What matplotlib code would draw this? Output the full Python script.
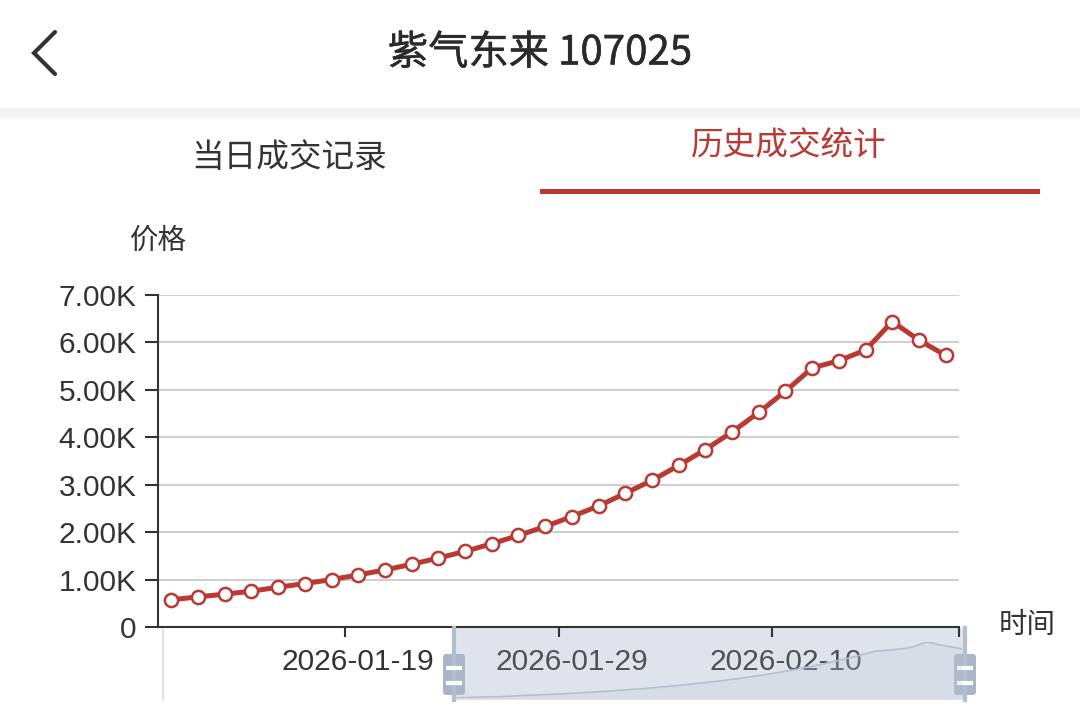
import numpy as np
import matplotlib.pyplot as plt
import matplotlib.patheffects as pe
from matplotlib.patches import Rectangle, FancyBboxPatch

# price per trading day
prices = [573, 636, 692, 755, 839, 916, 1000, 1098, 1203, 1322,
          1455, 1594, 1755, 1930, 2119, 2329, 2552, 2818, 3091, 3406,
          3741, 4112, 4524, 4972, 5462, 5615, 5839, 6440, 6049, 5727]
tick_idx = [7, 15, 23]
tick_labels = ["2026-01-19", "2026-01-29", "2026-02-10"]
y_ticks = [0, 1000, 2000, 3000, 4000, 5000, 6000, 7000]
y_labels = ["0", "1.00K", "2.00K", "3.00K", "4.00K", "5.00K", "6.00K", "7.00K"]

W, H = 1080, 713
fig = plt.figure(figsize=(W / 100, H / 100), dpi=100)


def box(x, y, w, h):
    # pixel box with top-left origin -> figure fraction
    return [x / W, 1 - (y + h) / H, w / W, h / H]


cjk = ['Noto Sans CJK SC', 'DejaVu Sans']
red = '#b83a32'
dark = '#333333'

# background layer (slider window sits behind the tick labels)
bg = fig.add_axes([0, 0, 1, 1], zorder=0)
bg.set_xlim(0, W)
bg.set_ylim(H, 0)
bg.axis('off')
bg.add_patch(Rectangle((455, 628), 510, 72, fc='#dfe4ec', ec='none'))

# main chart
ax = fig.add_axes(box(158, 295, 801, 332), zorder=1)
ax.patch.set_visible(False)
x = np.arange(len(prices))
ax.plot(x, prices, color=red, lw=3.6, marker='o', ms=9.5, mfc='white',
        mec=red, mew=1.8, zorder=3, clip_on=False)
ax.set_xlim(-0.5, len(prices) - 0.5)
ax.set_ylim(0, 7000)
ax.set_yticks(y_ticks)
ax.set_yticklabels(y_labels, fontsize=21.5, color=dark, family='Liberation Sans')
ax.tick_params(axis='y', length=9.5, width=1.5, color=dark, pad=6)
ax.grid(axis='y', color='#cfcfcf', lw=1.5)
ax.set_axisbelow(True)
for s in ['top', 'right']:
    ax.spines[s].set_visible(False)
for s in ['left', 'bottom']:
    ax.spines[s].set_color(dark)
    ax.spines[s].set_linewidth(1.5)

# ticks sit on category boundaries, labels on category centres
ax.set_xticks([i - 0.5 for i in tick_idx] + [len(prices) - 0.5])
ax.set_xticklabels([])
ax.set_xticks(tick_idx, minor=True)
ax.set_xticklabels(tick_labels, minor=True, fontsize=21.5, color=dark,
                   family='Liberation Sans')
for lab in ax.get_xticklabels(minor=True)[1:]:
    lab.set_color('#505050')
ax.tick_params(axis='x', which='major', length=7, width=1.5, color=dark)
ax.tick_params(axis='x', which='minor', length=0, pad=15)

# overlay in pixel coords for the app chrome + slider handles
ov = fig.add_axes([0, 0, 1, 1], zorder=5)
ov.set_xlim(0, W)
ov.set_ylim(H, 0)
ov.axis('off')

ov.plot([55, 34, 55], [32, 53, 74], color=dark, lw=3,
        solid_capstyle='round', solid_joinstyle='miter')
ov.text(540, 53, '紫气东来 107025', ha='center', va='center', fontsize=29,
        family=cjk, color='#2a2a2a',
        path_effects=[pe.withStroke(linewidth=0.35, foreground='#2a2a2a')])
ov.add_patch(Rectangle((0, 108), W, 10, fc='#f4f4f4', ec='none'))
ov.text(289, 158, '当日成交记录', ha='center', va='center', fontsize=23.5,
        family=cjk, color=dark)
ov.text(789, 146, '历史成交统计', ha='center', va='center', fontsize=23.5,
        family=cjk, color=red)
ov.add_patch(Rectangle((540, 189), 500, 5, fc=red, ec='none'))
ov.text(158, 241, '价格', ha='center', va='center', fontsize=20.5,
        family=cjk, color=dark)
ov.text(1027, 625, '时间', ha='center', va='center', fontsize=20.5,
        family=cjk, color=dark)

# slider
ov.plot([163, 163], [629, 700], color='#e3e3e3', lw=1.5)
for hx in [454, 965]:
    ov.plot([hx, hx], [628, 700], color='#b3bfce', lw=3)
    ov.add_patch(FancyBboxPatch((hx - 11, 654), 22, 41,
                                boxstyle='round,pad=0,rounding_size=3',
                                fc='#a9b6c8', ec='none'))
    for dy in [668, 683]:
        ov.plot([hx - 6, hx + 6], [dy, dy], color='white', lw=3)

# data shadow inside the slider
sh = fig.add_axes(box(455, 642, 507, 56), zorder=6)
sh.plot(x, prices, color='#b3bfcf', lw=1.2)
sh.fill_between(x, prices, min(prices) - 500, color='#c3ccd9', alpha=0.25, lw=0)
sh.set_xlim(0, len(prices) - 1)
sh.set_ylim(min(prices), max(prices))
sh.axis('off')

fig.savefig('out.png', dpi=100, facecolor='white')
